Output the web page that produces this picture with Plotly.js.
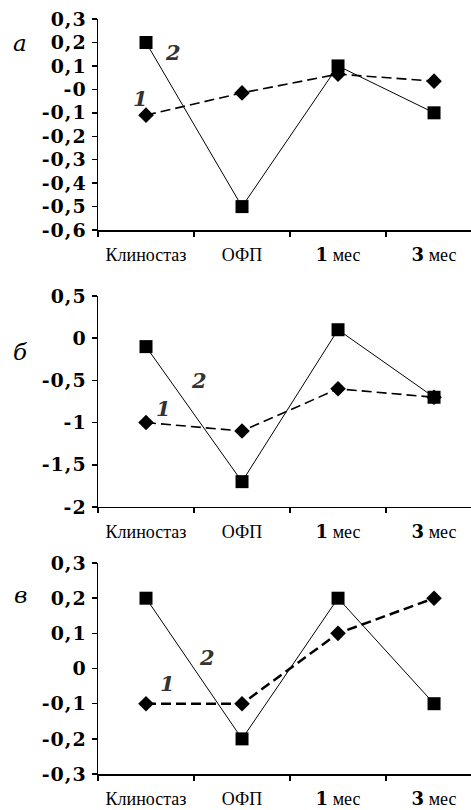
<!DOCTYPE html>
<html><head><meta charset="utf-8">
<script src="https://cdn.plot.ly/plotly-3.0.1.min.js"></script>
<style>html,body{margin:0;padding:0;background:#fff}#chart{width:471px;height:810px}
.yaxislayer-above text { letter-spacing: 1px; }</style>
</head><body><div id="chart"></div>
<script>
const categories = ["Клиностаз", "ОФП", "1 мес", "3 мес"];
const catLabels = ["Клиностаз", "ОФП",
  '<span style="font-family:\'DejaVu Serif\',serif;font-weight:bold;font-size:18px">1</span> мес',
  '<span style="font-family:\'DejaVu Serif\',serif;font-weight:bold;font-size:18px">3</span> мес'];

const a1 = [-0.11, -0.015, 0.065, 0.035];
const a2 = [0.2, -0.5, 0.1, -0.1];
const b1 = [-1.0, -1.1, -0.6, -0.7];
const b2 = [-0.1, -1.7, 0.1, -0.7];
const v1 = [-0.1, -0.1, 0.1, 0.2];
const v2 = [0.2, -0.2, 0.2, -0.1];

const aTickVals = [0.3, 0.2, 0.1, 0, -0.1, -0.2, -0.3, -0.4, -0.5, -0.6];
const aTickText = ["0,3", "0,2", "0,1", "-0", "-0,1", "-0,2", "-0,3", "-0,4", "-0,5", "-0,6"];
const bTickVals = [0.5, 0, -0.5, -1, -1.5, -2];
const bTickText = ["0,5", "0", "-0,5", "-1", "-1,5", "-2"];
const vTickVals = [0.3, 0.2, 0.1, 0, -0.1, -0.2, -0.3];
const vTickText = ["0,3", "0,2", "0,1", "0", "-0,1", "-0,2", "-0,3"];

const SERIF = "'DejaVu Serif', serif";
const TIMES = "'Liberation Serif', 'Times New Roman', serif";

const panels = [
  {s1: a1, s2: a2, tv: aTickVals, tt: aTickText, range: [-0.6, 0.3], dom: [0.7160, 0.9765], letter: "а", ly: 0.947,
   n1: [-0.06, -0.04], n2: [0.28, 0.158], dash: "10px,5px", w1: 1.6},
  {s1: b1, s2: b2, tv: bTickVals, tt: bTickText, range: [-2, 0.5], dom: [0.3741, 0.6346], letter: "б", ly: 0.565,
   n1: [0.18, -0.83], n2: [0.55, -0.50], dash: "10px,5px", w1: 1.6},
  {s1: v1, s2: v2, tv: vTickVals, tt: vTickText, range: [-0.3, 0.3], dom: [0.0444, 0.3049], letter: "в", ly: 0.265,
   n1: [0.22, -0.042], n2: [0.64, 0.03], dash: "10px,5px", w1: 2.5}
];

const data = [];
const layout = {
  width: 471, height: 810,
  margin: {l: 98, r: 0, t: 0, b: 0},
  paper_bgcolor: "#fff", plot_bgcolor: "#fff",
  showlegend: false,
  annotations: []
};
const numFont = {family: SERIF, size: 21, color: "#333", weight: "bold", style: "italic"};

panels.forEach((p, i) => {
  const n = i === 0 ? "" : String(i + 1);
  const xa = "x" + n, ya = "y" + n;
  data.push({x: categories, y: p.s2, xaxis: xa, yaxis: ya, type: "scatter", mode: "lines+markers",
    line: {color: "#000", width: 1}, marker: {symbol: "square", size: 13, color: "#000"}});
  data.push({x: categories, y: p.s1, xaxis: xa, yaxis: ya, type: "scatter", mode: "lines+markers",
    line: {color: "#000", width: p.w1, dash: p.dash}, marker: {symbol: "diamond", size: 12, color: "#000"}});
  layout["xaxis" + n] = {
    type: "category", anchor: ya, domain: [0, 1], range: [-0.5, 3.385],
    tickmode: "array", tickvals: categories, ticktext: catLabels, tickson: "boundaries",
    ticks: "outside", ticklen: 5, tickwidth: 1.5, tickcolor: "#000",
    showline: true, linecolor: "#000", linewidth: 1.5, showgrid: false, zeroline: false,
    ticklabelstandoff: 8,
    tickfont: {family: TIMES, size: 18, color: "#000"}
  };
  layout["yaxis" + n] = {
    anchor: xa, domain: p.dom, range: p.range,
    tickmode: "array", tickvals: p.tv, ticktext: p.tt,
    ticks: "outside", ticklen: 5, tickwidth: 1.5, tickcolor: "#000",
    showline: true, linecolor: "#000", linewidth: 1.5, showgrid: false, zeroline: false,
    ticklabelstandoff: 1,
    tickfont: {family: SERIF, size: 19, color: "#000", weight: "bold"}
  };
  layout.annotations.push({xref: "paper", yref: "paper", x: -0.209, y: p.ly, text: p.letter, showarrow: false,
    xanchor: "center", yanchor: "middle", font: {family: SERIF, size: 23, color: "#000", style: "italic"}});
  layout.annotations.push({xref: xa, yref: ya, x: p.n1[0], y: p.n1[1], text: "1", showarrow: false,
    xanchor: "center", yanchor: "middle", font: numFont});
  layout.annotations.push({xref: xa, yref: ya, x: p.n2[0], y: p.n2[1], text: "2", showarrow: false,
    xanchor: "center", yanchor: "middle", font: numFont});
});

Plotly.newPlot("chart", data, layout, {staticPlot: true, displayModeBar: false});
</script></body></html>
